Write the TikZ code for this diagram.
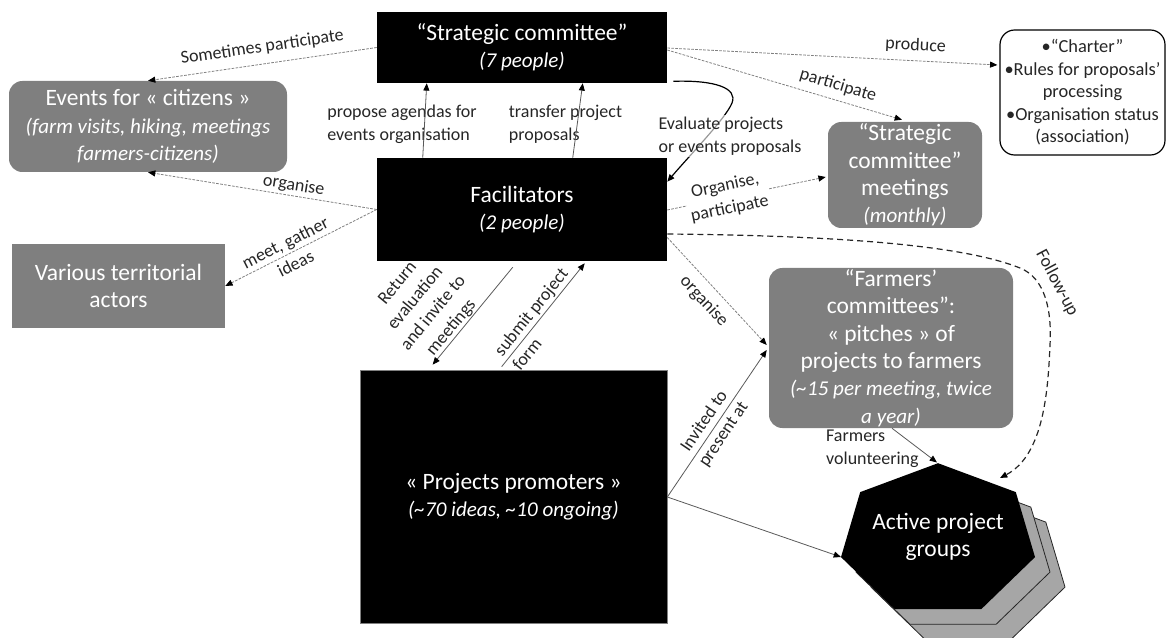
\documentclass[tikz,border=0pt]{standalone}
\usepackage{fontspec}
\setmainfont{Carlito}
\usetikzlibrary{arrows.meta,calc}
\definecolor{boxgray}{HTML}{7F7F7F}
\definecolor{hexgray}{HTML}{A6A6A6}
\definecolor{lnk}{HTML}{808080}
\definecolor{sol}{HTML}{595959}
\definecolor{txt}{HTML}{262626}
\newcommand\bigf{\fontsize{17.6}{20.6}\selectfont}
\newcommand\subtxt[1]{{\itshape\fontsize{15.8}{20.6}\selectfont #1}}
\newcommand\lblf{\fontsize{13.5}{17.4}\selectfont}
\newcommand\chf{\fontsize{13.8}{16.9}\selectfont}
\newcommand\heptpath{(938,463.2) -- (1015.8,492.1) -- (1035,557.1) -- (981.2,609.2) -- (894.8,609.2) -- (841,557.1) -- (860.2,492.1) -- cycle}
\begin{document}
\begin{tikzpicture}[x=0.75pt,y=-0.75pt,
  box/.style={inner sep=0pt, align=center, text=white, font=\bigf},
  blackbox/.style={box, fill=black},
  graybox/.style={box, fill=boxgray},
  rgraybox/.style={graybox, rounded corners=10pt},
  lbl/.style={font=\lblf, text=txt, align=center},
  tip/.style={-{Triangle[length=5.5pt,width=4.5pt,color=black]}},
  dotline/.style={tip, draw=lnk, line width=0.6pt, dash pattern=on 2pt off 1pt},
  solline/.style={tip, draw=sol, line width=0.6pt},
  curveline/.style={tip, draw=black, line width=0.9pt},
  followline/.style={tip, draw=txt, line width=0.9pt, dash pattern=on 4.5pt off 3pt},
]
\useasboundingbox (0,0) rectangle (1168,638);

% ---------- nodes ----------
\node[blackbox, minimum width=217.5pt, minimum height=53.25pt] (sc) at (522,47.5)
  {“Strategic committee”\\\subtxt{(7 people)}};
\node[blackbox, minimum width=217.5pt, minimum height=77.25pt] (fac) at (522,209.5)
  {Facilitators\\\subtxt{(2 people)}};
\node[blackbox, draw=lnk, line width=0.5pt, minimum width=230.25pt, minimum height=189.75pt] (pr) at (513.5,496.5)
  {« Projects promoters »\\\subtxt{(\textasciitilde 70 ideas, \textasciitilde 10 ongoing)}};
\node[rgraybox, minimum width=208.5pt, minimum height=68.25pt] (ev) at (148,126.5)
  {Events for « citizens »\\\subtxt{(farm visits, hiking, meetings}\\\subtxt{farmers-citizens)}};
\node[graybox, minimum width=159.75pt, minimum height=63pt] (va) at (118.5,286)
  {Various territorial\\actors};
\node[box, text=txt, draw=black, line width=0.9pt, rounded corners=11pt, fill=white,
      minimum width=123.75pt, minimum height=93.75pt, font=\chf] (ch) at (1082.5,92.5)
  {•“Charter”\\•Rules for proposals’\\processing\\•Organisation status\\(association)};
\node[rgraybox, minimum width=115.5pt, minimum height=79.5pt] (scm) at (905,175)
  {“Strategic\\committee”\\meetings\\\subtxt{(monthly)}};
\node[rgraybox, minimum width=183pt, minimum height=120pt] (fc) at (891,348)
  {“Farmers’\\committees”:\\« pitches » of\\projects to farmers\\\subtxt{(\textasciitilde 15 per meeting, twice}\\\subtxt{a year)}};

% heptagon stack
\filldraw[fill=hexgray, draw=black!85, line width=0.6pt, shift={(30,30)}] \heptpath;
\filldraw[fill=hexgray, draw=black!85, line width=0.6pt, shift={(15,15)}] \heptpath;
\fill[black] \heptpath;
\node[box] (apg) at (938,537) {Active project\\groups};
\coordinate (hTop) at (937,462.5);
\coordinate (hLeft) at (841,557);
\coordinate (hFollow) at (1000,478);

% ---------- connectors ----------
\draw[dotline] (sc.west) -- node[lbl, sloped, above=3pt, pos=0.49] (l1) {Sometimes participate} (ev.north);
\draw[dotline] (fac.west) -- node[lbl, sloped, above, inner sep=1.5pt, pos=0.37] (l2) {organise} (ev.south);
\draw[dotline] (fac.west) -- node[lbl, sloped, pos=0.57] (l3) {meet, gather\\ideas} (va.east);

\node[lbl, align=left, inner sep=1pt] (l4) at (402,124.5) {propose agendas for\\events organisation};
\node[lbl, align=left, inner sep=1pt] (l5) at (565.5,124.5) {transfer project\\proposals};
\draw[solline] ($(fac.north west)+(46,0)$) -- ($(sc.south west)+(50,0)$);
\draw[solline] ($(fac.north west)+(196,0)$) -- ($(sc.south west)+(206,0)$);

\draw[curveline] ($(sc.south east)+(6,-2)$) .. controls (715,80) and (738,88) .. (732,103)
  .. controls (726,118) and (690,155) .. ($(fac.north east)+(0,24)$);
\node[lbl, align=left, fill=white, fill opacity=0.6, text opacity=1, inner sep=1pt] (l6) at (730,136)
  {Evaluate projects\\or events proposals};

\draw[dotline] ($(sc.east)+(0,0.5)$) -- node[lbl, sloped, above=2pt, pos=0.75] (l8) {produce} ($(ch.west)+(-2,-27.5)$);
\draw[dotline] ($(sc.east)+(0,2.5)$) -- node[lbl, sloped, above=1.5pt, pos=0.71] (l9) {participate} ($(scm.north)+(-3,-2)$);
\draw[dotline] ($(fac.east)+(0,0.5)$) -- node[lbl, sloped, fill=white, pos=0.38, inner sep=1.5pt] (l7)
  {Organise,\\participate} ($(scm.west)+(-2,2)$);
\draw[dotline] ($(fac.east)+(0,28)$) -- node[lbl, sloped, below=3pt, pos=0.49] (l10) {organise} ($(fc.west)+(-2,-3)$);

\draw[followline] ($(fac.east)+(0,24.5)$) .. controls (880,236) and (975,250) .. (1020,268)
  .. controls (1045,278) and (1052,310) .. (1050,345)
  .. controls (1048,390) and (1044,455) .. (hFollow);
\node[lbl, rotate=-62] (l11) at (1057,283) {Follow-up};

\draw[solline] ($(pr.north west)+(142,-3)$) -- node[lbl, sloped, align=left, pos=0.46] (l12)
  {submit project\\form} ($(fac.south west)+(208,2)$);
\draw[solline] ($(fac.south west)+(136,6)$) -- node[lbl, sloped, above, inner sep=0.5pt, pos=0.68] (l13)
  {Return\\evaluation\\and invite to\\meetings} ($(pr.north west)+(73,-5)$);

\draw[solline] ($(pr.east)+(0,0.5)$) -- node[lbl, sloped, pos=0.47] (l14) {Invited to\\present at} ($(fc.west)+(-2,2)$);
\draw[solline] ($(pr.east)+(0,0.5)$) -- (hLeft);

\draw[solline] ($(fc.south)+(1,0)$) -- node[lbl, align=left, pos=0.6, anchor=east, inner sep=0pt] (l15)
  {Farmers\\volunteering} (hTop);
\end{tikzpicture}
\end{document}
